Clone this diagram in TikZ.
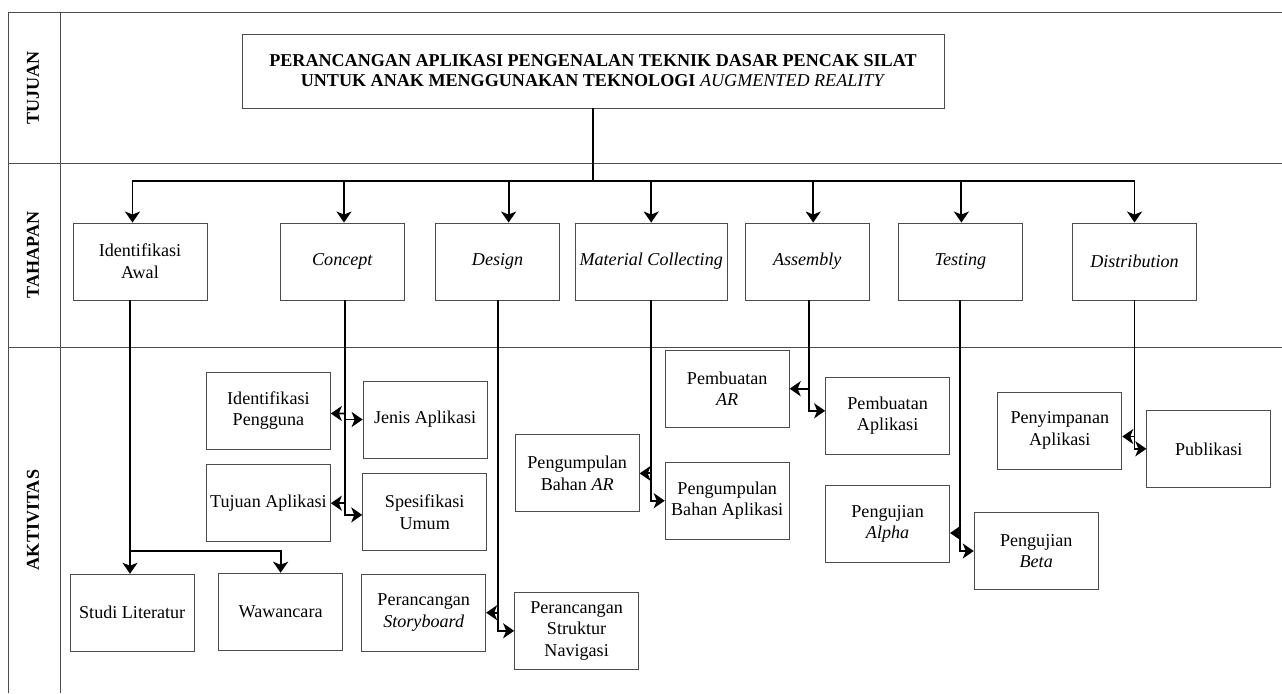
\documentclass[tikz,border=0pt]{standalone}
\usepackage{fontspec}
\setmainfont{Liberation Serif}
\usetikzlibrary{arrows.meta,calc}

\begin{document}
\begin{tikzpicture}[x=0.2mm, y=-0.2mm,
  font=\fontsize{10.3}{12.3}\selectfont,
  frame/.style={draw=black!70, line width=0.5pt},
  box/.style={draw=black!70, line width=0.5pt, minimum width=24.8mm, minimum height=15.4mm, align=center, inner sep=1pt},
  conn/.style={line width=1.1pt},
  arr/.style={conn, -{Stealth[length=2.2mm, width=3mm, inset=0.6mm]}},
  lane/.style={rotate=90, font=\fontsize{10.3}{12}\selectfont\bfseries}]
  \useasboundingbox (0,0) rectangle (1282,693);
  % lanes
  \draw[frame] (1282,12) -- (8,12) -- (8,693);
  \draw[frame] (60,12) -- (60,693);
  \draw[frame] (8,163) -- (1282,163);
  \draw[frame] (8,347) -- (1282,347);
  \node[lane] (ltujuan) at (33,88) {TUJUAN};
  \node[lane] (ltahapan) at (33,255) {TAHAPAN};
  \node[lane] (laktivitas) at (33,520) {AKTIVITAS};

  % tujuan
  \node[box, minimum width=140.4mm, minimum height=14.8mm, font=\fontsize{10.3}{11.4}\selectfont] (judul) at (593,71)
    {\textbf{PERANCANGAN APLIKASI PENGENALAN TEKNIK DASAR PENCAK SILAT}\\
     \textbf{UNTUK ANAK MENGGUNAKAN TEKNOLOGI} \textit{AUGMENTED REALITY}};

  % tahapan
  \node[box, minimum width=26.8mm] (awal) at (140,261.5) {Identifikasi\\Awal};
  \node[box] (concept) at (342.5,261.5) {\textit{Concept}};
  \node[box] (design) at (497.6,261.5) {\textit{Design}};
  \node[box, minimum width=30.4mm] (material) at (651.2,261.5) {\textit{Material Collecting}};
  \node[box] (assembly) at (807.2,261.5) {\textit{Assembly}};
  \node[box] (testing) at (960.4,261.5) {\textit{Testing}};
  \node[box] (distribution) at (1134.5,261.5) {\textit{Distribution}};

  \coordinate (bus) at (593,181);
  \draw[conn] (judul.south) -- (bus);
  \draw[arr] (bus) -| ([xshift=-1.5mm]awal.north);
  \draw[arr] (bus) -| ([xshift=0.3mm]concept.north);
  \draw[arr] (bus) -| ([xshift=2.2mm]design.north);
  \draw[arr] (bus) -| (material.north);
  \draw[arr] (bus) -| ([xshift=1.2mm]assembly.north);
  \draw[arr] (bus) -| ([xshift=0.2mm]testing.north);
  \draw[arr] (bus) -| (distribution.north);

  % aktivitas
  \node[box] (literatur) at (132.2,612.7) {Studi Literatur};
  \node[box] (wawancara) at (280.6,611.7) {Wawancara};
  \node[box] (pengguna) at (268.4,410.5) {Identifikasi\\Pengguna};
  \node[box] (jenis) at (425.1,419.5) {Jenis Aplikasi};
  \node[box] (tujuan) at (268.4,503.2) {Tujuan Aplikasi};
  \node[box] (spesifikasi) at (424.7,512.4) {Spesifikasi\\Umum};
  \node[box] (storyboard) at (423.7,612.7) {Perancangan\\\textit{Storyboard}};
  \node[box] (navigasi) at (576.6,630.8) {Perancangan\\Struktur\\Navigasi};
  \node[box] (bahanar) at (577.2,473.4) {Pengumpulan\\Bahan \textit{AR}};
  \node[box] (bahanapl) at (727.2,500.7) {Pengumpulan\\Bahan Aplikasi};
  \node[box] (pembuatanar) at (727.2,388.7) {Pembuatan\\\textit{AR}};
  \node[box] (pembuatanapl) at (887.6,415.8) {Pembuatan\\Aplikasi};
  \node[box] (alpha) at (887.6,524) {Pengujian\\\textit{Alpha}};
  \node[box] (beta) at (1036.2,551) {Pengujian\\\textit{Beta}};
  \node[box] (penyimpanan) at (1059.8,430.5) {Penyimpanan\\Aplikasi};
  \node[box] (publikasi) at (1208.8,448.8) {Publikasi};

  % identifikasi awal
  \coordinate (awalx) at ([xshift=-2mm]awal.south);
  \coordinate (awalk) at (awalx |- 0,551);
  \draw[arr] (awalx) -- (awalx |- literatur.north);
  \draw[arr] (awalk) -| (wawancara.north);
  % concept
  \coordinate (conx) at ([xshift=0.5mm]concept.south);
  \draw[arr] (conx) |- ([yshift=-0.5mm]spesifikasi.west);
  \draw[arr] (conx |- pengguna.east) ++(0,3) -- ([yshift=-0.6mm]pengguna.east);
  \draw[arr] (conx |- jenis.west) -- (jenis.west);
  \draw[arr] (conx |- tujuan.east) -- (tujuan.east);
  % design
  \draw[arr] (design.south) |- (navigasi.west);
  \draw[arr] (design.south |- storyboard.east) -- (storyboard.east);
  % material collecting
  \draw[arr] (material.south) |- (bahanapl.west);
  \draw[arr] (material.south |- bahanar.east) -- (bahanar.east);
  % assembly
  \coordinate (asmx) at ([xshift=0.3mm]assembly.south);
  \draw[arr] (asmx) |- ([yshift=1mm]pembuatanapl.west);
  \draw[arr] (asmx |- pembuatanar.east) -- (pembuatanar.east);
  % testing
  \coordinate (alphaend) at ([yshift=-1.8mm]alpha.east);
  \draw[arr] (testing.south) |- (beta.west);
  \draw[arr] (testing.south |- alphaend) -- (alphaend);
  % distribution
  \coordinate (simpanend) at ([yshift=-1.2mm]penyimpanan.east);
  \draw[arr] (distribution.south) |- (publikasi.west);
  \draw[arr] (distribution.south |- simpanend) -- (simpanend);
\end{tikzpicture}
\end{document}
